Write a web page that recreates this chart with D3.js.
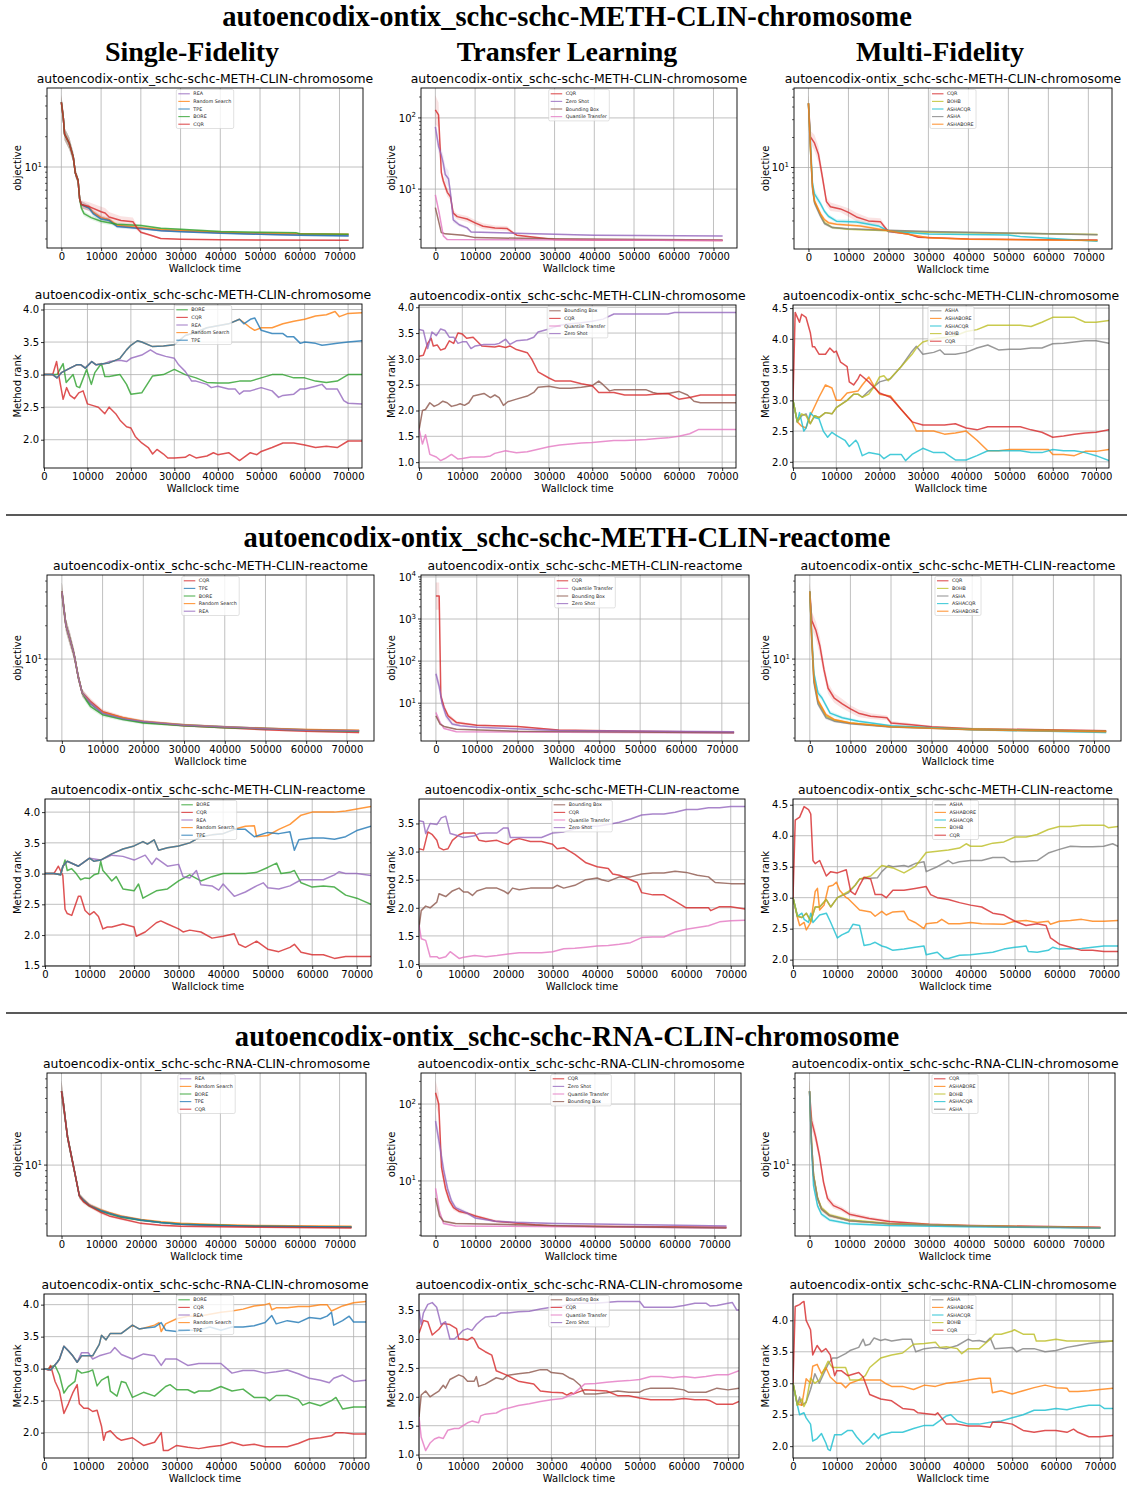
<!DOCTYPE html>
<meta charset="utf-8">
<body style="margin:0;background:#fff">
<script src="https://d3js.org/d3.v7.min.js"></script>
<script>

var width = 1127,
    height = 1488;

var sectionTitles = ["autoencodix-ontix_schc-schc-METH-CLIN-chromosome",
                     "autoencodix-ontix_schc-schc-METH-CLIN-reactome",
                     "autoencodix-ontix_schc-schc-RNA-CLIN-chromosome"];
var columnHeads = ["Single-Fidelity", "Transfer Learning", "Multi-Fidelity"];
var xTickVals = [0, 10000, 20000, 30000, 40000, 50000, 60000, 70000];

var colors = {
  "CQR": "#d62728", "BORE": "#2ca02c", "TPE": "#1f77b4", "Random Search": "#ff7f0e", "REA": "#9467bd",
  "Bounding Box": "#8c564b", "Quantile Transfer": "#e377c2", "Zero Shot": "#9467bd",
  "ASHA": "#7f7f7f", "BOHB": "#bcbd22", "ASHACQR": "#17becf", "ASHABORE": "#ff7f0e"
};

// ---- objective curves: [time, mean, band factor] ----
var methChrSfObj = {
  "REA": [[0,43,1.17],[500,30,1.2],[800,21,1.15],[2000,17,1.15],[3000,12.5,1.12],[3500,8.8,1.1],[4200,7.4,1.08],[4600,4.9,1.08],[5000,4.3,1.08],[7000,4.0,1.07],[8000,3.6,1.06],[10000,3.2,1.05],[12000,3.05,1.05],[14000,2.65,1.04],[20000,2.52,1.03],[25000,2.4,1.02],[30000,2.35,1.02],[40000,2.27,1.02],[50000,2.2,1.02],[60000,2.17,1.02],[72300,2.14,1.02]],
  "Random Search": [[0,43,1.17],[500,30,1.2],[800,21,1.15],[2000,17,1.15],[3000,12.5,1.12],[3500,8.8,1.1],[4200,7.4,1.08],[4600,4.9,1.08],[5000,4.3,1.08],[7000,4.0,1.07],[8000,3.6,1.06],[10000,3.2,1.05],[12000,3.05,1.05],[14000,2.7,1.04],[20000,2.55,1.03],[25000,2.45,1.02],[30000,2.4,1.02],[40000,2.3,1.02],[50000,2.25,1.02],[60000,2.22,1.02],[72300,2.2,1.02]],
  "TPE": [[0,43,1.17],[500,30,1.2],[800,21,1.15],[2000,17,1.15],[3000,12.5,1.12],[3500,8.8,1.1],[4200,7.4,1.08],[4600,4.9,1.08],[5000,4.3,1.08],[7000,3.95,1.07],[8000,3.5,1.06],[10000,3.1,1.05],[12000,3.0,1.05],[14000,2.62,1.04],[20000,2.5,1.03],[25000,2.38,1.02],[30000,2.33,1.02],[40000,2.25,1.02],[50000,2.2,1.02],[60000,2.15,1.02],[72300,2.12,1.02]],
  "BORE": [[0,43,1.17],[500,30,1.2],[800,21,1.15],[2000,17,1.15],[3000,12.5,1.12],[3500,8.8,1.1],[4200,7.4,1.08],[4600,4.9,1.08],[5000,4.0,1.07],[5700,3.5,1.06],[7500,3.2,1.05],[10000,2.95,1.05],[14000,2.75,1.04],[20000,2.68,1.03],[25000,2.52,1.02],[30000,2.46,1.02],[40000,2.34,1.02],[50000,2.3,1.02],[59000,2.28,1.02],[60000,2.22,1.02],[72300,2.2,1.02]],
  "CQR": [[0,43,1.17],[500,30,1.2],[800,21,1.15],[2000,17,1.15],[3000,12.5,1.12],[3500,8.8,1.1],[4200,7.4,1.08],[4600,4.9,1.08],[5000,4.3,1.1],[7000,4.1,1.1],[10000,3.65,1.12],[11000,3.55,1.12],[12000,3.25,1.12],[15000,3.0,1.1],[18000,2.92,1.1],[19000,2.55,1.06],[20000,2.3,1.03],[22500,2.15,1.02],[25000,2.0,1.02],[30000,1.97,1.01],[40000,1.94,1.01],[72300,1.92,1.01]]
};
var methChrTlObj = {
  "CQR": [[0,130,1.6],[800,110,1.5],[1500,17,1.2],[2000,13,1.15],[3000,9,1.15],[3800,7.8,1.12],[4500,4.6,1.1],[5500,4.1,1.1],[8000,3.8,1.1],[10000,3.35,1.1],[12000,3.0,1.1],[15000,2.85,1.08],[18000,2.8,1.08],[19500,2.45,1.05],[20500,2.25,1.03],[25000,2.1,1.02],[30000,1.95,1.02],[40000,1.93,1.01],[72300,1.9,1.01]],
  "Zero Shot": [[0,75,1.3],[800,40,1.25],[1500,30,1.25],[2000,23,1.3],[2500,16,1.3],[3300,14,1.3],[3800,8.8,1.2],[4500,3.7,1.1],[6000,3.15,1.06],[8000,2.85,1.05],[9000,2.5,1.03],[20000,2.4,1.02],[40000,2.25,1.02],[72300,2.2,1.01]],
  "Bounding Box": [[0,5.5,1.05],[1500,2.45,1.03],[2500,2.35,1.02],[7000,2.25,1.02],[10000,2.08,1.02],[30000,2.0,1.01],[72300,1.92,1.01]],
  "Quantile Transfer": [[0,8.3,1.05],[1000,4.5,1.05],[2000,2.2,1.03],[3000,1.95,1.02],[72300,1.9,1.01]]
};
var methChrMfObj = {
  "CQR": [[0,43,1.2],[500,20,1.15],[1500,17.5,1.2],[2500,13.5,1.2],[3500,8,1.15],[4500,4.6,1.1],[5500,4.1,1.1],[8000,3.9,1.08],[10000,3.6,1.1],[12000,3.25,1.1],[15000,2.97,1.08],[18000,2.92,1.08],[19000,2.6,1.05],[20000,2.33,1.03],[25000,2.2,1.02],[27500,2.05,1.02],[40000,1.97,1.01],[60000,1.93,1.01],[72300,1.92,1.01]],
  "BOHB": [[0,43,1.2],[500,15,1.2],[1000,6.6,1.1],[1500,4.6,1.08],[3000,3.4,1.05],[4000,2.85,1.04],[6000,2.55,1.03],[10000,2.45,1.02],[20000,2.38,1.02],[30000,2.3,1.02],[72300,2.18,1.02]],
  "ASHACQR": [[0,43,1.2],[500,18,1.2],[1000,7,1.15],[1500,5.5,1.1],[3000,4.4,1.08],[4000,3.7,1.06],[5000,3.3,1.05],[7000,2.95,1.05],[12000,2.9,1.05],[17500,2.65,1.04],[20000,2.35,1.02],[30000,2.2,1.02],[50000,2.15,1.01],[53000,2.08,1.01],[72300,1.87,1.01]],
  "ASHA": [[0,43,1.2],[500,15,1.2],[1000,6.2,1.1],[1500,4.5,1.08],[3000,3.3,1.05],[4000,2.8,1.04],[6000,2.55,1.03],[10000,2.48,1.02],[20000,2.4,1.02],[30000,2.33,1.02],[72300,2.17,1.02]],
  "ASHABORE": [[0,43,1.2],[500,16,1.2],[1000,6.5,1.1],[1500,4.7,1.08],[3000,3.5,1.06],[4000,3.05,1.05],[5000,2.85,1.04],[7000,2.75,1.03],[13000,2.65,1.03],[20000,2.38,1.02],[30000,2.02,1.02],[40000,1.96,1.01],[72300,1.9,1.01]]
};
var methReaSfObj = {
  "CQR": [[0,40,1.2],[500,28,1.2],[1000,20,1.15],[2000,15,1.15],[3000,11,1.12],[4000,7,1.1],[5000,5,1.08],[7000,4.2,1.07],[10000,3.4,1.05],[15000,3.0,1.04],[20000,2.75,1.03],[30000,2.55,1.02],[40000,2.45,1.02],[50000,2.35,1.02],[60000,2.28,1.02],[73000,2.22,1.02]],
  "TPE": [[0,40,1.2],[500,28,1.2],[1000,20,1.15],[2000,15,1.15],[3000,11,1.12],[4000,7,1.1],[5000,5,1.08],[7000,4.0,1.07],[10000,3.3,1.05],[15000,2.95,1.04],[20000,2.75,1.03],[30000,2.6,1.02],[40000,2.5,1.02],[50000,2.42,1.02],[60000,2.35,1.02],[73000,2.3,1.02]],
  "BORE": [[0,40,1.2],[500,28,1.2],[1000,20,1.15],[2000,15,1.15],[3000,11,1.12],[4000,7,1.1],[5000,5,1.08],[6000,4.3,1.07],[7000,3.8,1.06],[10000,3.2,1.05],[15000,2.9,1.04],[20000,2.7,1.03],[30000,2.55,1.02],[40000,2.45,1.02],[50000,2.4,1.02],[60000,2.32,1.02],[73000,2.28,1.02]],
  "Random Search": [[0,40,1.2],[500,28,1.2],[1000,20,1.15],[2000,15,1.15],[3000,11,1.12],[4000,7,1.1],[5000,5,1.08],[7000,4.1,1.07],[10000,3.35,1.05],[15000,3.0,1.04],[20000,2.8,1.03],[30000,2.6,1.02],[40000,2.5,1.02],[50000,2.42,1.02],[60000,2.36,1.02],[73000,2.32,1.02]],
  "REA": [[0,40,1.2],[500,28,1.2],[1000,20,1.15],[2000,15,1.15],[3000,11,1.12],[4000,7,1.1],[5000,5,1.08],[7000,4.1,1.07],[10000,3.3,1.05],[15000,2.95,1.04],[20000,2.78,1.03],[30000,2.58,1.02],[40000,2.48,1.02],[50000,2.4,1.02],[60000,2.33,1.02],[73000,2.3,1.02]]
};
var methReaTlObj = {
  "CQR": [[0,3500,2.1],[800,3500,2.1],[1200,15,1.3],[2000,8,1.2],[3000,5,1.15],[5000,3.5,1.1],[10000,3.0,1.06],[20000,2.8,1.04],[30000,2.3,1.03],[50000,2.15,1.02],[73000,2.05,1.02]],
  "Quantile Transfer": [[0,6,1.1],[1000,3.5,1.05],[2000,2.5,1.03],[5000,2.1,1.02],[73000,1.95,1.02]],
  "Bounding Box": [[0,5,1.1],[1000,3.2,1.05],[2000,2.8,1.04],[5000,2.4,1.03],[20000,2.15,1.02],[73000,1.98,1.02]],
  "Zero Shot": [[0,50,1.4],[800,25,1.3],[1500,10,1.3],[2500,5,1.2],[4000,3.2,1.1],[6000,2.9,1.05],[10000,2.7,1.04],[30000,2.25,1.03],[73000,2.1,1.02]]
};
var methReaMfObj = {
  "CQR": [[0,40,1.2],[500,22,1.2],[1500,18,1.2],[2500,13,1.2],[3500,8,1.15],[4500,5.5,1.12],[6000,4.5,1.1],[8000,4.0,1.1],[10000,3.6,1.08],[12000,3.3,1.08],[15000,3.1,1.06],[19000,3.0,1.05],[20000,2.7,1.04],[25000,2.6,1.03],[30000,2.5,1.02],[40000,2.4,1.02],[73000,2.3,1.02]],
  "BOHB": [[0,40,1.2],[500,14,1.2],[1000,6.5,1.1],[2000,4.2,1.06],[4000,3.1,1.04],[6000,2.85,1.03],[10000,2.7,1.02],[20000,2.5,1.02],[40000,2.38,1.02],[73000,2.28,1.02]],
  "ASHA": [[0,40,1.2],[500,14,1.2],[1000,6.2,1.1],[2000,4.0,1.06],[4000,3.0,1.04],[6000,2.8,1.03],[10000,2.65,1.02],[20000,2.48,1.02],[40000,2.36,1.02],[73000,2.27,1.02]],
  "ASHACQR": [[0,40,1.2],[500,16,1.2],[1000,7.5,1.1],[2000,5.0,1.08],[3000,4.5,1.06],[5000,3.3,1.05],[8000,3.0,1.04],[12000,2.8,1.03],[20000,2.55,1.02],[40000,2.35,1.02],[73000,2.22,1.02]],
  "ASHABORE": [[0,40,1.2],[500,15,1.2],[1000,6.8,1.1],[2000,4.3,1.06],[4000,3.2,1.04],[6000,2.9,1.03],[10000,2.7,1.02],[20000,2.5,1.02],[40000,2.35,1.02],[73000,2.25,1.02]]
};
var rnaChrSfObj = {
  "REA": [[0,46,1.25],[500,35,1.2],[1000,25,1.15],[1500,18,1.12],[2500,12,1.1],[3500,8,1.08],[4500,5.3,1.06],[5500,4.9,1.05],[7000,4.4,1.04],[10000,3.9,1.04],[12000,3.7,1.03],[15000,3.45,1.03],[20000,3.2,1.02],[25000,3.05,1.02],[30000,2.95,1.02],[40000,2.88,1.02],[50000,2.82,1.01],[73000,2.78,1.01]],
  "Random Search": [[0,46,1.25],[500,35,1.2],[1000,25,1.15],[1500,18,1.12],[2500,12,1.1],[3500,8,1.08],[4500,5.3,1.06],[5500,4.9,1.05],[7000,4.4,1.04],[10000,3.95,1.04],[12000,3.75,1.03],[15000,3.5,1.03],[20000,3.25,1.02],[25000,3.1,1.02],[30000,3.0,1.02],[40000,2.92,1.02],[50000,2.87,1.01],[73000,2.83,1.01]],
  "BORE": [[0,46,1.25],[500,35,1.2],[1000,25,1.15],[1500,18,1.12],[2500,12,1.1],[3500,8,1.08],[4500,5.3,1.06],[5500,4.8,1.05],[7000,4.3,1.04],[10000,3.85,1.04],[12000,3.65,1.03],[15000,3.4,1.03],[20000,3.2,1.02],[25000,3.05,1.02],[30000,2.95,1.02],[40000,2.88,1.02],[50000,2.82,1.01],[73000,2.77,1.01]],
  "TPE": [[0,46,1.25],[500,35,1.2],[1000,25,1.15],[1500,18,1.12],[2500,12,1.1],[3500,8,1.08],[4500,5.3,1.06],[5500,4.85,1.05],[7000,4.35,1.04],[10000,3.9,1.04],[12000,3.7,1.03],[15000,3.45,1.03],[20000,3.22,1.02],[25000,3.05,1.02],[30000,2.95,1.02],[40000,2.87,1.02],[50000,2.82,1.01],[73000,2.78,1.01]],
  "CQR": [[0,46,1.25],[500,35,1.2],[1000,25,1.15],[1500,18,1.12],[2500,12,1.1],[3500,8,1.08],[4500,5.3,1.06],[5500,4.7,1.05],[7000,4.3,1.04],[10000,3.75,1.04],[12000,3.5,1.03],[15000,3.3,1.03],[20000,3.0,1.02],[25000,2.88,1.02],[30000,2.83,1.02],[40000,2.8,1.02],[50000,2.77,1.01],[73000,2.72,1.01]]
};
var rnaChrTlObj = {
  "CQR": [[0,140,1.45],[800,100,1.4],[1500,15,1.2],[2500,8,1.15],[3500,5.5,1.1],[4500,4.5,1.08],[6000,4.0,1.06],[8000,3.8,1.05],[10000,3.5,1.05],[15000,3.0,1.04],[20000,2.85,1.03],[25000,2.7,1.02],[30000,2.6,1.02],[73000,2.5,1.02]],
  "Zero Shot": [[0,60,1.3],[1000,30,1.3],[2000,14,1.25],[3000,8,1.15],[4000,5.5,1.1],[5000,4.5,1.08],[8000,3.8,1.05],[10000,3.3,1.04],[15000,3.0,1.03],[20000,2.9,1.03],[30000,2.8,1.02],[40000,2.75,1.02],[73000,2.6,1.02]],
  "Quantile Transfer": [[0,8,1.1],[1000,4,1.06],[2000,2.8,1.04],[5000,2.6,1.02],[73000,2.45,1.02]],
  "Bounding Box": [[0,6,1.1],[1000,3.5,1.05],[2000,3.0,1.04],[5000,2.8,1.03],[20000,2.7,1.02],[40000,2.55,1.02],[73000,2.45,1.02]]
};
var rnaChrMfObj = {
  "CQR": [[0,46,1.25],[500,25,1.2],[1500,18,1.15],[2500,12,1.12],[3500,7,1.1],[4500,5,1.08],[6000,4.3,1.06],[8000,4.0,1.05],[10000,3.6,1.05],[15000,3.3,1.04],[20000,3.1,1.03],[30000,2.92,1.02],[40000,2.85,1.02],[73000,2.75,1.01]],
  "ASHABORE": [[0,46,1.25],[500,16,1.2],[1000,8,1.1],[2000,5,1.06],[3000,4.0,1.05],[5000,3.5,1.04],[10000,3.15,1.03],[20000,2.95,1.02],[40000,2.82,1.02],[73000,2.72,1.01]],
  "BOHB": [[0,46,1.25],[500,16,1.2],[1000,8.2,1.1],[2000,5.1,1.06],[3000,4.1,1.05],[5000,3.55,1.04],[10000,3.2,1.03],[20000,2.97,1.02],[40000,2.83,1.02],[73000,2.72,1.01]],
  "ASHACQR": [[0,46,1.25],[500,14,1.2],[1000,6.5,1.1],[2000,4.3,1.06],[3000,3.6,1.05],[5000,3.2,1.04],[10000,2.95,1.03],[20000,2.85,1.02],[40000,2.78,1.02],[73000,2.7,1.01]],
  "ASHA": [[0,46,1.25],[500,16,1.2],[1000,8,1.1],[2000,5,1.06],[3000,4.0,1.05],[5000,3.5,1.04],[10000,3.15,1.03],[20000,2.95,1.02],[40000,2.82,1.02],[73000,2.72,1.01]]
};

// ---- method ranks: [time, rank] ----
var methChrSfRank = {
  "BORE": [[0,3],[2000,3],[3000,3],[4400,3.17],[5100,2.88],[6700,3.0],[7500,2.82],[8200,2.8],[9800,3.08],[10900,2.85],[11700,3.03],[13200,3.17],[14000,2.97],[15000,2.97],[17500,3.0],[19000,2.85],[20000,2.7],[22500,2.72],[25000,2.98],[27500,3.0],[30000,3.08],[32500,3.0],[35000,2.95],[37500,2.88],[40000,2.87],[42500,2.87],[45000,2.9],[47500,2.9],[50000,2.95],[52500,3.0],[55000,3.0],[57500,2.95],[60000,2.95],[62500,2.9],[65000,2.88],[67500,2.9],[70000,3.0],[73200,3.0]],
  "CQR": [[0,3],[2000,3],[2900,3.2],[3500,2.95],[4400,2.62],[5200,2.8],[6000,2.68],[7000,2.63],[8000,2.72],[9000,2.75],[10000,2.55],[11500,2.52],[12500,2.5],[14000,2.4],[15000,2.5],[16500,2.4],[17500,2.3],[19000,2.2],[20000,2.18],[21000,2.05],[22500,1.95],[24000,1.88],[25000,1.78],[26000,1.85],[27500,1.78],[28500,1.72],[30000,1.72],[32500,1.73],[33500,1.77],[35000,1.72],[37500,1.75],[39000,1.8],[40000,1.77],[42500,1.8],[45000,1.68],[47500,1.8],[49000,1.77],[50000,1.82],[52500,1.88],[55000,1.95],[57500,1.95],[60000,1.92],[62500,1.88],[65000,1.9],[67500,1.88],[70000,1.98],[73200,1.98]],
  "REA": [[0,3],[2000,3],[3000,2.95],[4000,3.03],[6000,3.1],[7500,3.15],[8500,3.15],[9500,3.1],[11000,3.2],[12000,3.15],[14000,3.17],[15000,3.2],[17500,3.22],[19000,3.2],[20000,3.25],[22500,3.3],[24500,3.38],[26000,3.32],[28000,3.28],[30000,3.25],[31000,3.15],[32500,3.05],[34000,2.9],[35000,2.9],[37500,2.85],[38500,2.8],[40000,2.82],[42500,2.78],[44000,2.78],[45000,2.7],[46000,2.75],[47500,2.75],[50000,2.8],[52500,2.75],[54000,2.65],[55000,2.68],[57500,2.7],[59000,2.78],[60000,2.78],[62500,2.82],[64000,2.85],[65000,2.78],[67500,2.78],[69000,2.6],[70000,2.56],[73200,2.55]],
  "Random Search": [[0,3],[2000,3],[3000,2.95],[4000,3.03],[6000,3.1],[7500,3.15],[8500,3.15],[9500,3.1],[11000,3.2],[12000,3.15],[14000,3.17],[15000,3.18],[17500,3.25],[19000,3.38],[20000,3.45],[21500,3.52],[22500,3.5],[25000,3.43],[27500,3.44],[30000,3.46],[32500,3.6],[35000,3.65],[37500,3.72],[40000,3.75],[42500,3.78],[45000,3.85],[46000,3.8],[47500,3.72],[48500,3.68],[50000,3.72],[52500,3.72],[55000,3.78],[57500,3.82],[60000,3.85],[62500,3.9],[65000,3.92],[67000,3.97],[68000,3.89],[70000,3.94],[73200,3.95]],
  "TPE": [[0,3],[2000,3],[3000,2.95],[4000,3.03],[6000,3.1],[7500,3.15],[8500,3.15],[9500,3.1],[11000,3.2],[12000,3.15],[14000,3.17],[15000,3.18],[17500,3.25],[19000,3.38],[20000,3.45],[21500,3.52],[22500,3.5],[25000,3.43],[27500,3.44],[30000,3.46],[32500,3.6],[35000,3.65],[37500,3.72],[40000,3.75],[42500,3.78],[45000,3.85],[46000,3.78],[47500,3.85],[48500,3.87],[50000,3.68],[52500,3.63],[55000,3.63],[56000,3.58],[57500,3.58],[59000,3.48],[60000,3.5],[62500,3.48],[64000,3.45],[65000,3.46],[67500,3.48],[70000,3.5],[73200,3.52]]
};
var methChrTlRank = {
  "Bounding Box": [[0,1.62],[800,2.0],[1500,2.02],[2500,2.15],[3500,2.08],[4500,2.12],[5500,2.18],[6500,2.15],[7500,2.08],[8500,2.1],[9500,2.13],[10500,2.1],[11500,2.15],[12500,2.28],[15000,2.33],[16500,2.25],[17500,2.3],[18500,2.25],[19500,2.1],[20500,2.17],[22500,2.22],[25000,2.28],[26500,2.35],[27500,2.45],[30000,2.47],[32500,2.43],[35000,2.43],[37500,2.45],[40000,2.48],[41500,2.57],[42500,2.5],[44000,2.38],[45000,2.4],[47500,2.4],[50000,2.4],[52500,2.4],[54000,2.35],[55000,2.33],[57500,2.33],[60000,2.37],[62000,2.3],[63500,2.18],[65000,2.15],[73200,2.15]],
  "CQR": [[0,3.05],[1000,3.07],[2000,3.3],[2800,3.4],[3300,3.25],[4200,3.27],[5000,3.17],[6000,3.2],[7000,3.35],[8000,3.3],[9000,3.5],[10000,3.48],[11000,3.4],[12500,3.42],[14500,3.25],[17500,3.23],[18500,3.25],[20000,3.22],[21000,3.25],[22500,3.18],[25000,3.12],[26000,3.0],[27500,2.75],[30000,2.63],[31500,2.57],[35000,2.57],[37500,2.52],[40000,2.48],[41500,2.35],[45000,2.35],[47500,2.3],[50000,2.3],[52500,2.3],[55000,2.32],[57500,2.33],[60000,2.22],[62500,2.25],[65000,2.3],[73200,2.3]],
  "Quantile Transfer": [[0,1.65],[800,1.35],[1500,1.53],[2000,1.35],[2500,1.15],[4000,1.1],[5000,1.03],[6000,1.07],[7500,1.15],[9000,1.06],[10000,1.07],[12000,1.1],[15000,1.1],[16500,1.12],[17500,1.17],[20000,1.22],[22500,1.18],[25000,1.2],[27500,1.25],[30000,1.3],[32500,1.33],[35000,1.35],[37500,1.37],[40000,1.38],[42500,1.4],[45000,1.42],[47500,1.42],[50000,1.43],[52500,1.44],[55000,1.46],[57500,1.47],[60000,1.5],[62500,1.55],[64500,1.63],[73200,1.63]],
  "Zero Shot": [[0,3.57],[1000,3.55],[2000,3.2],[3000,3.52],[4000,3.45],[5000,3.58],[6000,3.55],[7000,3.42],[8000,3.42],[9000,3.3],[10000,3.33],[11000,3.33],[12000,3.2],[13000,3.25],[15000,3.28],[17500,3.28],[18500,3.3],[20000,3.38],[21000,3.28],[22500,3.35],[25000,3.37],[26500,3.42],[27500,3.52],[30000,3.58],[32500,3.65],[35000,3.68],[37500,3.7],[40000,3.73],[42500,3.77],[45000,3.87],[57500,3.87],[59000,3.9],[73200,3.9]]
};
var methChrMfRank = {
  "ASHA": [[0,3.0],[1000,2.65],[2000,2.75],[3000,2.78],[4000,2.62],[5000,2.75],[6000,2.72],[7500,2.8],[9000,2.78],[10000,2.88],[12500,3.0],[14000,3.1],[15000,3.1],[16000,3.05],[17500,3.15],[20000,3.3],[22500,3.35],[25000,3.55],[27500,3.8],[28500,3.88],[30000,3.75],[32500,3.78],[34000,3.82],[35000,3.75],[37500,3.75],[40000,3.78],[42500,3.85],[45000,3.9],[47500,3.82],[50000,3.83],[52500,3.83],[55000,3.85],[57500,3.85],[60000,3.92],[62500,3.93],[65000,3.95],[67500,3.97],[70000,3.97],[73000,3.93]],
  "ASHABORE": [[0,3.0],[1000,2.65],[2000,2.58],[3000,2.55],[4000,2.75],[5000,2.9],[6000,3.05],[7500,3.25],[9000,3.2],[10000,3.0],[11000,3.0],[12500,3.12],[15000,3.15],[16000,3.25],[17500,3.38],[19000,3.2],[20000,3.1],[22500,3.07],[25000,2.85],[27500,2.65],[28500,2.5],[30000,2.5],[32500,2.5],[35000,2.45],[37500,2.47],[40000,2.5],[42500,2.35],[45000,2.18],[47500,2.18],[50000,2.2],[55000,2.2],[59000,2.2],[60000,2.12],[62500,2.12],[65000,2.1],[67500,2.17],[70000,2.17],[73000,2.2]],
  "ASHACQR": [[0,3.0],[1000,2.65],[1500,2.8],[2500,2.5],[3000,2.55],[4000,2.8],[5000,2.72],[6000,2.7],[7000,2.5],[8000,2.4],[9000,2.48],[10000,2.43],[12000,2.35],[13000,2.25],[14500,2.35],[15000,2.3],[16000,2.1],[17500,2.15],[20000,2.12],[21000,2.05],[22500,2.12],[25000,2.12],[26000,2.02],[27500,2.12],[30000,2.22],[32500,2.15],[35000,2.15],[37500,2.03],[40000,2.03],[42500,2.1],[45000,2.18],[50000,2.18],[52500,2.18],[55000,2.15],[57500,2.15],[60000,2.2],[62500,2.18],[65000,2.18],[67500,2.15],[70000,2.1],[73000,2.02]],
  "BOHB": [[0,3.0],[1000,2.65],[2000,2.78],[3000,2.75],[4000,2.62],[5000,2.75],[6000,2.72],[7500,2.8],[9000,2.78],[10000,2.88],[12500,3.0],[14000,3.1],[15000,3.1],[16000,3.05],[17500,3.1],[19000,3.25],[20000,3.38],[21000,3.4],[22000,3.32],[25000,3.55],[27500,3.75],[28500,3.85],[30000,3.95],[32500,4.0],[35000,4.02],[37500,4.05],[40000,4.12],[42500,4.15],[45000,4.22],[50000,4.22],[52500,4.22],[55000,4.2],[57500,4.27],[60000,4.35],[65000,4.35],[67500,4.27],[70000,4.27],[73000,4.3]],
  "CQR": [[0,3.0],[500,4.43],[1000,4.35],[1500,4.27],[2000,4.4],[3000,4.35],[4000,4.1],[4500,3.87],[5000,3.87],[6000,3.75],[7500,3.75],[8500,3.85],[9500,3.78],[10000,3.8],[11000,3.62],[12500,3.55],[13000,3.3],[14000,3.25],[15000,3.35],[15500,3.42],[17500,3.3],[20000,3.12],[22500,3.05],[25000,2.85],[27500,2.65],[30000,2.6],[35000,2.6],[37500,2.62],[40000,2.55],[42500,2.52],[45000,2.57],[52500,2.57],[55000,2.52],[57500,2.48],[60000,2.4],[62500,2.42],[65000,2.45],[67500,2.47],[70000,2.48],[73000,2.52]]
};
var methReaSfRank = {
  "BORE": [[0,3.0],[2000,3.0],[3500,2.98],[4500,3.22],[5000,3.05],[6000,3.08],[7000,3.0],[8000,2.9],[9000,2.93],[10000,2.92],[11000,2.98],[12000,3.0],[12500,3.2],[13000,3.05],[14000,2.97],[15000,2.88],[16000,2.95],[17500,2.75],[20000,2.72],[21000,2.83],[22000,2.6],[22500,2.62],[25000,2.72],[27500,2.75],[30000,2.88],[32500,2.98],[35000,2.88],[37500,2.95],[40000,3.0],[42500,3.0],[45000,3.0],[47500,3.02],[50000,3.1],[52000,3.17],[53000,3.0],[55000,3.02],[56000,3.05],[57500,2.85],[60000,2.78],[62500,2.8],[65000,2.78],[67500,2.65],[70000,2.6],[73200,2.5]],
  "CQR": [[0,3.0],[2000,3.0],[3000,3.12],[4000,2.97],[4500,2.42],[5000,2.35],[6000,2.32],[7500,2.63],[8000,2.63],[9000,2.4],[10000,2.33],[11000,2.38],[12000,2.3],[13000,2.1],[14000,2.13],[15000,2.13],[17500,2.18],[20000,2.13],[20500,1.98],[22500,2.05],[25000,2.2],[26000,2.23],[27500,2.18],[30000,2.1],[31000,2.05],[32500,2.08],[35000,2.05],[37500,1.95],[40000,1.98],[42500,2.02],[43500,1.85],[45000,1.8],[47500,1.9],[50000,1.77],[52500,1.73],[55000,1.8],[56000,1.85],[57500,1.72],[60000,1.68],[62500,1.68],[65000,1.62],[67500,1.65],[70000,1.65],[73200,1.65]],
  "REA": [[0,3.0],[2000,3.0],[3500,2.98],[4000,3.12],[5000,3.2],[7500,3.12],[10000,3.25],[12500,3.22],[15000,3.3],[17500,3.28],[20000,3.22],[22500,3.3],[24000,3.15],[25000,3.25],[27500,3.12],[30000,3.15],[31000,2.95],[32500,2.93],[34000,3.05],[35000,2.82],[37500,2.8],[39000,2.73],[40000,2.83],[42500,2.63],[45000,2.7],[47500,2.8],[49000,2.85],[50000,2.77],[52500,2.75],[55000,2.8],[57500,2.9],[62500,2.9],[65000,2.98],[66000,3.03],[67500,3.0],[70000,3.0],[73200,2.97]],
  "Random Search": [[0,3.0],[2000,3.0],[3500,2.98],[4000,3.12],[5000,3.2],[7500,3.12],[10000,3.25],[11000,3.2],[12500,3.22],[15000,3.32],[17500,3.4],[20000,3.45],[22000,3.52],[23000,3.48],[24500,3.55],[25500,3.38],[27500,3.42],[30000,3.45],[32500,3.5],[35000,3.6],[37500,3.63],[40000,3.65],[42500,3.72],[45000,3.77],[47000,3.78],[47500,3.6],[50000,3.62],[52500,3.72],[55000,3.8],[57500,3.95],[60000,4.0],[65000,4.0],[67500,4.02],[70000,4.05],[73200,4.09]],
  "TPE": [[0,3.0],[2000,3.0],[3500,2.98],[4000,3.12],[5000,3.2],[7500,3.12],[10000,3.25],[11000,3.2],[12500,3.22],[15000,3.32],[17500,3.4],[20000,3.45],[22000,3.52],[23000,3.48],[24500,3.55],[25500,3.38],[27500,3.42],[30000,3.45],[32500,3.5],[35000,3.6],[37500,3.63],[40000,3.65],[42500,3.72],[45000,3.72],[47000,3.6],[50000,3.67],[52500,3.65],[55000,3.68],[56000,3.38],[57000,3.55],[60000,3.58],[62500,3.58],[65000,3.56],[67500,3.6],[70000,3.7],[73200,3.77]]
};
var methReaTlRank = {
  "Bounding Box": [[0,1.65],[500,1.95],[1500,2.03],[2500,2.0],[4000,2.1],[4500,2.25],[6000,2.2],[7500,2.3],[9000,2.35],[10000,2.28],[11000,2.28],[12000,2.22],[13000,2.3],[15000,2.35],[17500,2.35],[19000,2.3],[20000,2.25],[21000,2.35],[22500,2.32],[25000,2.35],[30000,2.35],[31000,2.4],[32500,2.35],[35000,2.4],[37500,2.5],[40000,2.53],[41000,2.5],[42500,2.47],[45000,2.55],[47500,2.55],[50000,2.6],[52500,2.62],[55000,2.62],[57500,2.65],[60000,2.63],[62500,2.58],[65000,2.55],[66500,2.45],[70000,2.43],[73200,2.43]],
  "CQR": [[0,3.05],[1000,3.03],[2000,3.35],[3000,3.3],[4000,3.2],[4500,3.07],[5500,3.03],[6500,3.05],[7500,3.2],[9000,3.3],[10000,3.33],[12500,3.33],[13500,3.2],[15000,3.18],[17500,3.2],[19000,3.15],[20000,3.13],[21000,3.2],[22500,3.23],[25000,3.18],[27500,3.18],[30000,3.13],[31000,3.05],[32500,3.07],[35000,2.95],[37500,2.8],[40000,2.73],[42500,2.7],[43500,2.6],[45000,2.58],[47500,2.5],[49000,2.45],[50000,2.27],[52500,2.23],[55000,2.23],[57500,2.12],[60000,2.0],[65000,2.0],[65500,1.95],[67500,2.02],[70000,2.02],[73200,1.98]],
  "Quantile Transfer": [[0,1.7],[500,1.45],[1500,1.42],[2500,1.13],[4000,1.13],[4500,1.1],[6000,1.13],[7000,1.22],[9000,1.1],[10000,1.12],[12500,1.15],[15000,1.13],[17500,1.15],[20000,1.18],[22500,1.2],[27500,1.2],[30000,1.22],[32500,1.27],[35000,1.28],[37500,1.3],[40000,1.32],[42500,1.33],[45000,1.35],[47500,1.38],[50000,1.47],[52500,1.48],[55000,1.48],[57500,1.57],[60000,1.62],[62500,1.65],[65000,1.68],[67500,1.75],[70000,1.77],[73200,1.78]],
  "Zero Shot": [[0,3.55],[1000,3.53],[1500,3.32],[2500,3.5],[4000,3.48],[5000,3.6],[6000,3.63],[7000,3.32],[8000,3.3],[10000,3.25],[12500,3.28],[13500,3.32],[15000,3.33],[17500,3.33],[19000,3.42],[20000,3.42],[20500,3.25],[27500,3.25],[30000,3.33],[32500,3.35],[35000,3.4],[37500,3.45],[40000,3.45],[42500,3.48],[45000,3.52],[47500,3.58],[50000,3.65],[52500,3.67],[55000,3.67],[57500,3.7],[60000,3.75],[62500,3.75],[65000,3.78],[67500,3.78],[70000,3.8],[73200,3.8]]
};
var methReaMfRank = {
  "ASHA": [[0,3.0],[1000,2.7],[2000,2.68],[3000,2.75],[4000,2.62],[5000,2.85],[6000,2.85],[7500,2.97],[8500,2.85],[10000,3.0],[12500,3.08],[14000,3.2],[15000,3.3],[19000,3.32],[20000,3.42],[21500,3.52],[22500,3.5],[25000,3.52],[26000,3.5],[27500,3.55],[29500,3.58],[30000,3.42],[32500,3.5],[35000,3.6],[36000,3.55],[37500,3.58],[40000,3.6],[42500,3.6],[45000,3.65],[47500,3.65],[49000,3.58],[50000,3.58],[55000,3.6],[57500,3.72],[60000,3.78],[62500,3.83],[65000,3.82],[67500,3.82],[70000,3.83],[72000,3.87],[73200,3.83]],
  "ASHABORE": [[0,3.0],[1000,2.68],[1500,2.55],[2500,2.6],[3000,2.48],[4000,2.6],[5000,3.1],[5500,3.15],[6000,2.8],[7000,2.88],[8000,3.18],[9000,3.2],[9800,3.25],[10500,3.12],[12000,3.0],[12500,2.98],[15000,2.8],[17500,2.77],[18500,2.7],[20000,2.78],[21000,2.72],[22500,2.77],[25000,2.78],[26000,2.65],[27500,2.6],[29500,2.5],[30000,2.58],[32500,2.6],[33500,2.65],[35000,2.58],[37500,2.58],[40000,2.6],[42500,2.58],[47500,2.57],[50000,2.62],[52500,2.63],[55000,2.6],[57500,2.62],[58000,2.57],[60000,2.62],[62500,2.63],[65000,2.65],[67500,2.62],[70000,2.62],[73200,2.63]],
  "ASHACQR": [[0,3.0],[1000,2.7],[2000,2.75],[2500,2.65],[3500,2.6],[4000,2.75],[4500,2.6],[6000,2.72],[7500,2.75],[8500,2.6],[10000,2.35],[11000,2.4],[12500,2.45],[13500,2.57],[15000,2.55],[16000,2.23],[17500,2.25],[18500,2.28],[20000,2.22],[21000,2.2],[22500,2.15],[25000,2.17],[27500,2.2],[29500,2.22],[30000,2.08],[32500,2.12],[34000,2.02],[35000,2.02],[37500,2.07],[40000,2.08],[42500,2.1],[45000,2.12],[47500,2.17],[50000,2.2],[52500,2.22],[53000,2.13],[55000,2.12],[57500,2.15],[58500,2.2],[60000,2.17],[65000,2.18],[67500,2.2],[70000,2.22],[73200,2.22]],
  "BOHB": [[0,3.0],[1000,2.7],[2000,2.68],[3000,2.75],[4000,2.62],[5000,2.85],[6000,2.85],[7500,2.97],[8500,2.85],[10000,3.0],[12500,3.1],[14000,3.2],[15000,3.3],[17500,3.35],[20000,3.52],[22500,3.48],[25000,3.4],[27500,3.5],[30000,3.73],[32500,3.75],[35000,3.77],[37500,3.8],[39000,3.87],[40000,3.83],[42500,3.83],[45000,3.88],[47500,3.9],[50000,3.98],[52500,3.98],[55000,4.02],[57500,4.1],[60000,4.15],[62500,4.15],[65000,4.17],[70000,4.17],[71000,4.13],[73200,4.15]],
  "CQR": [[0,3.0],[500,4.25],[1500,4.3],[2500,4.47],[3500,4.42],[4000,4.35],[4500,3.6],[5000,3.55],[6000,3.6],[7500,3.35],[8500,3.42],[10000,3.4],[12000,3.45],[13000,3.1],[14000,3.05],[15000,3.2],[16000,3.33],[17500,3.3],[18500,3.05],[20000,3.05],[21000,3.0],[22500,3.12],[25000,3.12],[27500,3.15],[30000,3.18],[31000,3.05],[32500,3.0],[35000,2.97],[37500,2.92],[40000,2.88],[42500,2.85],[45000,2.75],[47500,2.72],[50000,2.62],[52500,2.55],[55000,2.58],[57000,2.55],[58000,2.35],[60000,2.25],[62500,2.2],[65000,2.15],[67500,2.15],[70000,2.13],[73200,2.13]]
};
var rnaChrSfRank = {
  "BORE": [[0,3.0],[1000,3.0],[1500,3.03],[2500,3.05],[3500,2.9],[4500,2.62],[5500,2.72],[7000,2.8],[7500,2.98],[8500,2.93],[10000,2.95],[11000,2.98],[12000,2.73],[13000,2.82],[14500,2.88],[15000,2.65],[16500,2.57],[17500,2.8],[18500,2.78],[20000,2.55],[22500,2.63],[25000,2.57],[27500,2.72],[28500,2.75],[30000,2.67],[32500,2.67],[34000,2.62],[35000,2.65],[37500,2.65],[40000,2.72],[42500,2.65],[45000,2.68],[47500,2.55],[50000,2.55],[51000,2.5],[52500,2.58],[55000,2.58],[57500,2.52],[58500,2.43],[60000,2.47],[62500,2.42],[65000,2.5],[66000,2.55],[67500,2.37],[70000,2.4],[72800,2.4]],
  "CQR": [[0,3.0],[1000,2.98],[1500,3.05],[2500,2.8],[3500,2.65],[4500,2.3],[5500,2.45],[6500,2.62],[7500,2.75],[8000,2.45],[9000,2.38],[10000,2.38],[11000,2.33],[12000,2.35],[13000,2.1],[13500,1.88],[14000,2.0],[15000,2.03],[16500,1.92],[17500,1.88],[20000,1.92],[22500,1.8],[25000,1.85],[26500,2.0],[27000,1.72],[28000,1.72],[30000,1.8],[32500,1.77],[35000,1.75],[37500,1.78],[40000,1.8],[42500,1.85],[45000,1.8],[47500,1.82],[50000,1.78],[55000,1.78],[57500,1.83],[60000,1.9],[62500,1.92],[65000,1.95],[66000,2.0],[67500,2.0],[70000,1.98],[72800,1.98]],
  "REA": [[0,3.0],[1500,2.98],[3000,3.1],[3500,3.15],[4500,3.35],[5500,3.28],[6500,3.2],[7500,3.1],[8500,3.25],[10000,3.25],[11000,3.15],[12500,3.2],[15000,3.25],[16000,3.33],[17500,3.22],[20000,3.15],[22500,3.23],[25000,3.2],[26500,3.05],[27500,3.15],[30000,3.15],[32500,3.05],[35000,3.08],[40000,3.08],[42500,2.93],[45000,2.97],[47500,2.97],[50000,2.93],[52500,2.95],[55000,2.98],[57500,2.92],[60000,2.85],[62500,2.82],[64500,2.78],[65500,2.85],[67500,2.9],[70000,2.8],[72800,2.82]],
  "Random Search": [[0,3.0],[1500,2.98],[3000,3.1],[3500,3.15],[4500,3.35],[5500,3.28],[6500,3.2],[7500,3.1],[8500,3.2],[11000,3.2],[12500,3.38],[13000,3.52],[14000,3.45],[15000,3.55],[17500,3.55],[20000,3.68],[21500,3.62],[22500,3.63],[25000,3.68],[26000,3.72],[26500,3.58],[27500,3.7],[30000,3.78],[32500,3.82],[35000,3.82],[37500,3.85],[40000,3.88],[42500,3.9],[45000,3.93],[47500,3.98],[50000,4.0],[51000,4.02],[51500,3.92],[52500,3.95],[55000,3.95],[57500,3.97],[60000,3.97],[62500,4.0],[64000,4.0],[65000,3.9],[67500,3.98],[70000,4.03],[72800,4.05]],
  "TPE": [[0,3.0],[1500,2.98],[3000,3.1],[3500,3.15],[4500,3.35],[5500,3.28],[6500,3.2],[7500,3.1],[8500,3.2],[11000,3.2],[12500,3.38],[13000,3.52],[14000,3.45],[15000,3.55],[17500,3.55],[20000,3.68],[21500,3.62],[22500,3.63],[25000,3.65],[26500,3.72],[27500,3.6],[30000,3.58],[32500,3.6],[35000,3.6],[37500,3.65],[40000,3.6],[42500,3.65],[45000,3.65],[47500,3.67],[50000,3.72],[51500,3.83],[52500,3.7],[55000,3.75],[57500,3.72],[60000,3.8],[62500,3.78],[64000,3.82],[65000,3.88],[65500,3.68],[67500,3.75],[69000,3.82],[70000,3.73],[72800,3.73]]
};
var rnaChrTlRank = {
  "Bounding Box": [[0,1.65],[500,2.03],[1500,2.1],[2500,2.0],[3500,2.05],[4500,2.1],[5500,2.2],[6000,2.15],[7000,2.3],[9000,2.38],[10000,2.35],[11000,2.27],[12500,2.27],[13000,2.35],[13500,2.18],[15000,2.22],[17500,2.33],[19000,2.3],[20000,2.37],[22500,2.4],[25000,2.42],[27500,2.47],[29000,2.47],[30000,2.42],[32500,2.4],[34000,2.33],[35000,2.3],[36500,2.2],[37500,2.05],[40000,2.05],[42500,2.07],[45000,2.1],[47500,2.08],[50000,2.08],[51000,2.12],[52500,2.15],[57500,2.15],[60000,2.12],[61000,2.08],[65000,2.08],[67500,2.15],[70000,2.12],[72500,2.15]],
  "CQR": [[0,3.1],[1000,3.32],[2000,3.3],[3000,3.07],[4500,3.17],[5500,3.27],[7000,3.25],[8500,3.18],[9000,3.0],[10000,3.0],[11000,2.98],[12000,3.03],[12500,3.0],[13500,2.85],[15000,2.78],[16500,2.72],[17500,2.45],[20000,2.37],[22500,2.27],[26000,2.22],[27500,2.1],[30000,2.08],[32500,2.07],[33500,2.03],[34500,2.07],[35000,2.05],[37500,2.12],[42500,2.1],[45000,2.02],[47500,2.02],[50000,1.98],[52500,1.95],[57500,1.95],[60000,1.97],[62500,1.95],[65000,1.95],[66000,1.93],[67500,1.87],[71000,1.87],[72500,1.92]],
  "Quantile Transfer": [[0,1.65],[500,1.3],[1500,1.07],[2500,1.2],[3500,1.27],[4500,1.3],[5500,1.28],[6500,1.42],[8000,1.45],[9000,1.45],[10000,1.5],[11000,1.55],[12000,1.58],[13500,1.55],[14000,1.67],[15000,1.7],[17500,1.72],[19000,1.78],[20000,1.8],[22500,1.85],[25000,1.88],[27500,1.92],[30000,1.95],[32500,1.97],[35000,2.05],[37500,2.22],[40000,2.23],[42500,2.25],[45000,2.27],[47500,2.28],[50000,2.3],[52500,2.35],[55000,2.35],[57500,2.33],[60000,2.35],[62500,2.33],[65000,2.35],[67500,2.38],[70000,2.38],[72500,2.45]],
  "Zero Shot": [[0,3.5],[500,3.25],[1000,3.45],[2000,3.6],[3000,3.63],[4000,3.55],[5000,3.25],[6000,3.3],[7000,3.0],[8000,3.0],[9000,3.07],[10000,3.15],[11000,3.18],[12000,3.15],[13000,3.25],[14000,3.32],[15000,3.38],[17500,3.4],[18500,3.45],[20000,3.45],[22500,3.47],[25000,3.48],[27500,3.52],[30000,3.55],[32500,3.57],[35000,3.62],[40000,3.62],[45000,3.65],[50000,3.65],[51000,3.55],[57500,3.55],[60000,3.58],[62500,3.62],[65000,3.62],[66000,3.57],[67500,3.58],[70000,3.62],[71000,3.63],[72000,3.5],[72500,3.5]]
};
var rnaChrMfRank = {
  "ASHA": [[0,3.0],[1000,2.65],[1500,2.78],[2000,2.65],[3000,2.7],[4000,2.9],[5000,3.15],[6000,3.0],[7000,3.15],[8000,3.3],[9000,3.4],[10000,3.4],[12000,3.47],[13000,3.52],[15000,3.57],[16000,3.7],[16500,3.6],[17500,3.62],[18500,3.72],[20000,3.68],[21000,3.7],[22500,3.67],[25000,3.7],[27000,3.7],[28000,3.5],[30000,3.55],[32500,3.57],[35000,3.55],[37500,3.6],[40000,3.7],[41000,3.67],[42500,3.68],[44000,3.65],[45000,3.72],[46000,3.55],[50000,3.57],[51000,3.5],[52500,3.55],[55000,3.55],[57500,3.5],[60000,3.52],[62500,3.57],[65000,3.6],[67500,3.63],[70000,3.65],[73000,3.67]],
  "ASHABORE": [[0,3.0],[1000,2.67],[2000,2.65],[3000,3.07],[4000,3.0],[4500,3.27],[5500,3.3],[6500,3.15],[7500,3.25],[8500,3.1],[10000,3.0],[11000,3.0],[12000,2.93],[13000,3.0],[15000,3.05],[20000,3.05],[21000,3.0],[22500,2.95],[25000,2.95],[27500,2.9],[30000,2.97],[32500,2.95],[35000,3.0],[37500,3.02],[40000,3.05],[42500,3.08],[45000,3.08],[45500,2.85],[47500,2.88],[50000,2.83],[52500,2.88],[55000,2.93],[57500,2.97],[60000,2.93],[62500,2.92],[63000,2.87],[65000,2.87],[67500,2.88],[70000,2.9],[73000,2.92]],
  "ASHACQR": [[0,3.0],[1000,2.65],[1500,2.5],[2500,2.53],[3000,2.45],[4000,2.35],[4500,2.08],[5500,2.12],[6500,2.2],[7500,2.05],[8000,1.95],[8500,1.93],[9500,2.18],[11000,2.18],[12500,2.25],[13500,2.25],[14500,2.15],[16000,2.03],[17500,2.12],[18500,2.2],[19500,2.12],[20000,2.17],[22500,2.22],[25000,2.22],[27500,2.28],[30000,2.33],[32000,2.33],[35000,2.48],[36000,2.5],[37500,2.4],[40000,2.35],[42500,2.35],[45000,2.38],[47500,2.4],[50000,2.45],[52500,2.5],[55000,2.57],[57500,2.57],[60000,2.6],[62500,2.58],[65000,2.62],[67500,2.65],[70000,2.65],[71000,2.6],[73000,2.6]],
  "BOHB": [[0,3.0],[1000,2.65],[2000,2.75],[2500,2.63],[3000,2.7],[4000,3.08],[5000,3.0],[6000,3.05],[7000,3.2],[8000,3.35],[9000,3.25],[12000,3.25],[13000,3.05],[15000,3.05],[16500,3.12],[17500,3.25],[20000,3.4],[22500,3.45],[25000,3.48],[27500,3.62],[30000,3.63],[32500,3.65],[33500,3.57],[35000,3.58],[37500,3.55],[38500,3.47],[40000,3.55],[42500,3.55],[45000,3.7],[46000,3.78],[47500,3.78],[50000,3.83],[50500,3.85],[52500,3.78],[55000,3.78],[55500,3.67],[57500,3.67],[60000,3.7],[62500,3.67],[73000,3.67]],
  "CQR": [[0,3.0],[500,4.22],[1500,4.25],[2000,4.28],[2500,4.3],[3000,4.0],[4000,3.85],[4500,3.45],[5500,3.6],[6500,3.5],[7500,3.55],[8500,3.45],[9500,3.12],[10000,3.2],[11000,3.2],[12500,3.12],[15000,3.17],[16000,3.1],[17500,2.82],[20000,2.75],[22500,2.72],[25000,2.6],[27500,2.58],[28500,2.53],[32500,2.5],[33000,2.53],[35000,2.35],[37500,2.35],[40000,2.32],[42500,2.32],[45000,2.3],[45500,2.38],[47500,2.38],[50000,2.35],[52500,2.25],[55000,2.22],[57500,2.25],[60000,2.25],[62500,2.22],[64000,2.27],[65000,2.22],[67500,2.15],[70000,2.15],[73000,2.17]]
};

// ---- layout ----
var panels = [
  {type: "obj",  data: methChrSfObj,  sec: 0, col: 0, box: [47, 363, 88, 248]},
  {type: "obj",  data: methChrTlObj,  sec: 0, col: 1, box: [421, 737, 88, 248]},
  {type: "obj",  data: methChrMfObj,  sec: 0, col: 2, box: [794, 1112, 88, 249]},
  {type: "rank", data: methChrSfRank, sec: 0, col: 0, box: [44, 362, 304, 468]},
  {type: "rank", data: methChrTlRank, sec: 0, col: 1, box: [419, 736, 305, 468]},
  {type: "rank", data: methChrMfRank, sec: 0, col: 2, box: [793, 1109, 305, 468]},
  {type: "obj",  data: methReaSfObj,  sec: 1, col: 0, box: [47, 374, 575, 741]},
  {type: "obj",  data: methReaTlObj,  sec: 1, col: 1, box: [421, 749, 575, 741]},
  {type: "obj",  data: methReaMfObj,  sec: 1, col: 2, box: [795, 1121, 575, 741]},
  {type: "rank", data: methReaSfRank, sec: 1, col: 0, box: [45, 371, 799, 966]},
  {type: "rank", data: methReaTlRank, sec: 1, col: 1, box: [419, 745, 799, 966]},
  {type: "rank", data: methReaMfRank, sec: 1, col: 2, box: [793, 1118, 799, 966]},
  {type: "obj",  data: rnaChrSfObj,   sec: 2, col: 0, box: [47, 366, 1073, 1236]},
  {type: "obj",  data: rnaChrTlObj,   sec: 2, col: 1, box: [421, 741, 1073, 1236]},
  {type: "obj",  data: rnaChrMfObj,   sec: 2, col: 2, box: [795, 1115, 1073, 1236]},
  {type: "rank", data: rnaChrSfRank,  sec: 2, col: 0, box: [44, 366, 1294, 1458]},
  {type: "rank", data: rnaChrTlRank,  sec: 2, col: 1, box: [419, 739, 1294, 1458]},
  {type: "rank", data: rnaChrMfRank,  sec: 2, col: 2, box: [793, 1113, 1294, 1458]}
];
var ylabelX = [17, 391, 765];
var secTitleY = [26, 547, 1046];

var svg = d3.select("body").append("svg")
    .attr("width", width)
    .attr("height", height)
    .style("display", "block");

svg.append("rect").attr("width", width).attr("height", height).attr("fill", "#fff");

var serif = "'Liberation Serif', 'DejaVu Serif', serif";
var sans = "'DejaVu Sans', sans-serif";

// section titles, sized so the first one matches the reference width
var head = svg.append("g").attr("font-family", serif).attr("font-weight", "bold").attr("fill", "#000");
var probe = head.append("text").attr("font-size", 28).text(sectionTitles[0]);
var titleSize = 28 * 690 / probe.node().getComputedTextLength();
probe.remove();
sectionTitles.forEach(function(t, i) {
  head.append("text").attr("x", 567).attr("y", secTitleY[i])
      .attr("text-anchor", "middle").attr("font-size", titleSize).text(t);
});
columnHeads.forEach(function(t, i) {
  head.append("text").attr("x", [192, 567, 940][i]).attr("y", 61)
      .attr("text-anchor", "middle").attr("font-size", titleSize * 0.98).text(t);
});
[515, 1013].forEach(function(yy) {
  svg.append("line").attr("x1", 6).attr("x2", 1127).attr("y1", yy).attr("y2", yy)
      .attr("stroke", "#222").attr("stroke-width", 1.5);
});

panels.forEach(drawPanel);

function drawPanel(p) {
  var x0 = p.box[0], x1 = p.box[1], y0 = p.box[2], y1 = p.box[3];
  var names = Object.keys(p.data);
  var pts = names.flatMap(function(n) { return p.data[n]; });
  var g = svg.append("g").attr("font-family", sans).attr("fill", "#000");
  var x, y, yTicks, yMinor = [];

  if (p.type === "obj") {
    var t0 = d3.min(pts, d => d[0]), t1 = d3.max(pts, d => d[0]), tp = (t1 - t0) * 0.05;
    x = d3.scaleLinear().domain([t0 - tp, t1 + tp]).range([x0, x1]);
    var lo = Math.log10(d3.min(pts, d => d[1] / d[2])),
        hi = Math.log10(d3.max(pts, d => d[1] * d[2])),
        lp = (hi - lo) * 0.05;
    y = d3.scaleLog().domain([Math.pow(10, lo - lp), Math.pow(10, hi + lp)]).range([y1, y0]);
    yTicks = d3.range(Math.ceil(lo - lp), Math.floor(hi + lp) + 1);
    for (var e = Math.floor(lo - lp); e <= Math.ceil(hi + lp); e++) {
      for (var m = 2; m < 10; m++) {
        var v = m * Math.pow(10, e);
        if (v >= y.domain()[0] && v <= y.domain()[1]) yMinor.push(v);
      }
    }
  } else {
    x = d3.scaleLinear().domain([0, d3.max(pts, d => d[0])]).range([x0, x1]);
    var ex = d3.extent(pts, d => d[1]), vp = (ex[1] - ex[0]) * 0.05;
    y = d3.scaleLinear().domain([ex[0] - vp, ex[1] + vp]).range([y1, y0]);
    yTicks = d3.range(Math.ceil((ex[0] - vp) * 2) / 2, ex[1] + vp + 1e-9, 0.5);
  }
  var xTicks = xTickVals.filter(v => v >= x.domain()[0] && v <= x.domain()[1]);
  var yMajor = p.type === "obj" ? yTicks.map(e => Math.pow(10, e)) : yTicks;

  // grid
  var grid = g.append("g").attr("stroke", "#b0b0b0").attr("stroke-width", 0.8);
  grid.selectAll(".gx").data(xTicks).enter().append("line")
      .attr("x1", d => x(d)).attr("x2", d => x(d)).attr("y1", y0).attr("y2", y1);
  grid.selectAll(".gy").data(yMajor).enter().append("line")
      .attr("x1", x0).attr("x2", x1).attr("y1", d => y(d)).attr("y2", d => y(d));

  // bands and lines
  var clipId = "clip" + x0 + "_" + y0;
  g.append("clipPath").attr("id", clipId).append("rect")
      .attr("x", x0).attr("y", y0).attr("width", x1 - x0).attr("height", y1 - y0);
  var plot = g.append("g").attr("clip-path", "url(#" + clipId + ")");
  if (p.type === "obj") {
    var area = d3.area().x(d => x(d[0])).y0(d => y(d[1] / d[2])).y1(d => y(d[1] * d[2]));
    names.forEach(function(n) {
      plot.append("path").datum(p.data[n]).attr("d", area)
          .attr("fill", colors[n]).attr("fill-opacity", 0.13).attr("stroke", "none");
    });
  }
  var line = d3.line().x(d => x(d[0])).y(d => y(d[1]));
  names.forEach(function(n) {
    plot.append("path").datum(p.data[n]).attr("d", line)
        .attr("fill", "none").attr("stroke", colors[n]).attr("stroke-opacity", 0.8)
        .attr("stroke-width", 1.5).attr("stroke-linejoin", "round");
  });

  // frame
  g.append("rect").attr("x", x0).attr("y", y0).attr("width", x1 - x0).attr("height", y1 - y0)
      .attr("fill", "none").attr("stroke", "#000").attr("stroke-width", 0.9);

  // x axis
  var xa = g.append("g").attr("transform", "translate(0," + y1 + ")")
      .call(d3.axisBottom(x).tickValues(xTicks).tickSize(3).tickPadding(2).tickFormat(d3.format("d")));
  xa.select(".domain").remove();
  xa.selectAll("text").attr("font-size", 10).attr("font-family", sans).attr("fill", "#000");
  xa.selectAll("line").attr("stroke", "#000").attr("stroke-width", 0.8);

  // y axis
  if (p.type === "obj") {
    var ya = g.append("g").attr("transform", "translate(" + x0 + ",0)");
    ya.call(d3.axisLeft(y).tickValues(yMinor).tickSize(2).tickFormat(""));
    ya.select(".domain").remove();
    ya.selectAll("line").attr("stroke", "#000").attr("stroke-width", 0.6);
    yTicks.forEach(function(e) {
      var yy = y(Math.pow(10, e));
      g.append("line").attr("x1", x0 - 3).attr("x2", x0).attr("y1", yy).attr("y2", yy)
          .attr("stroke", "#000").attr("stroke-width", 0.8);
      var t = g.append("text").attr("x", x0 - 5).attr("y", yy + 4)
          .attr("text-anchor", "end").attr("font-size", 10);
      t.append("tspan").text("10");
      t.append("tspan").attr("font-size", 7).attr("dy", -4.5).text(e);
    });
  } else {
    var yr = g.append("g").attr("transform", "translate(" + x0 + ",0)")
        .call(d3.axisLeft(y).tickValues(yTicks).tickSize(3).tickPadding(2).tickFormat(d3.format(".1f")));
    yr.select(".domain").remove();
    yr.selectAll("text").attr("font-size", 10).attr("font-family", sans).attr("fill", "#000");
    yr.selectAll("line").attr("stroke", "#000").attr("stroke-width", 0.8);
  }

  // labels
  g.append("text").attr("x", (x0 + x1) / 2).attr("y", y0 - 5).attr("text-anchor", "middle")
      .attr("font-size", 12.4).text(sectionTitles[p.sec]);
  g.append("text").attr("x", (x0 + x1) / 2).attr("y", y1 + 24).attr("text-anchor", "middle")
      .attr("font-size", 10).text("Wallclock time");
  g.append("text").attr("transform", "translate(" + ylabelX[p.col] + "," + ((y0 + y1) / 2) + ") rotate(-90)")
      .attr("text-anchor", "middle").attr("dy", "0.35em").attr("font-size", 10)
      .text(p.type === "obj" ? "objective" : "Method rank");

  // legend, upper center
  var fs = 4.8, rowH = 7.6, hl = 11.5;
  var leg = g.append("g");
  var box = leg.append("rect").attr("fill", "#fff").attr("fill-opacity", 0.8)
      .attr("stroke", "#ccc").attr("stroke-width", 0.6).attr("rx", 1.5);
  var maxW = 0;
  names.forEach(function(n, i) {
    var t = leg.append("text").attr("x", 2 + hl + 3.5).attr("y", 4.3 + i * rowH)
        .attr("dy", "0.35em").attr("font-size", fs).attr("fill", "#222").text(n);
    maxW = Math.max(maxW, t.node().getComputedTextLength());
    leg.append("line").attr("x1", 2).attr("x2", 2 + hl)
        .attr("y1", 4.3 + i * rowH).attr("y2", 4.3 + i * rowH)
        .attr("stroke", colors[n]).attr("stroke-opacity", 0.8).attr("stroke-width", 1.1);
  });
  var lw = 2 + hl + 3.5 + maxW + 2.5, lh = 8.6 + (names.length - 1) * rowH;
  box.attr("width", lw).attr("height", lh);
  leg.attr("transform", "translate(" + ((x0 + x1) / 2 - lw / 2) + "," + (y0 + 1.5) + ")");
}

</script>
